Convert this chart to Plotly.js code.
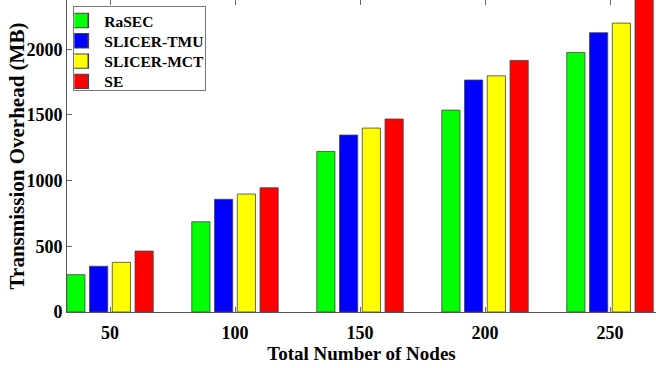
<!DOCTYPE html>
<html>
<head>
<meta charset="utf-8">
<script src="https://cdn.plot.ly/plotly-3.0.1.min.js"></script>
<style>html,body{margin:0;padding:0;background:#fff;}#chart{width:656px;height:368px;}</style>
</head>
<body>
<div id="chart"></div>
<script>
const categories = ['50', '100', '150', '200', '250'];
const seriesNames = ['RaSEC', 'SLICER-TMU', 'SLICER-MCT', 'SE'];
const rasec = [284, 687, 1222, 1537, 1976];
const slicerTMU = [348, 858, 1347, 1766, 2126];
const slicerMCT = [378, 898, 1400, 1798, 2199];
const se = [464, 946, 1469, 1915, 2450];
const yTicks = [0, 500, 1000, 1500, 2000];

const colors = ['#00ff00', '#0000ff', '#ffff00', '#ff0000'];
const values = [rasec, slicerTMU, slicerMCT, se];
const fam = 'Liberation Serif, Times New Roman, serif';

const traces = values.map((v, i) => ({
  type: 'bar',
  name: seriesNames[i],
  x: categories,
  y: v,
  marker: {color: colors[i], line: {color: '#444', width: 0.8}},
  cliponaxis: true
}));

const layout = {
  width: 656, height: 368,
  margin: {l: 67, r: 0, t: 0, b: 56},
  paper_bgcolor: '#fff', plot_bgcolor: '#fff',
  barmode: 'group', bargap: 0.272, bargroupgap: 0.2,
  showlegend: true,
  legend: {
    x: 0.0107, y: 0.981, xanchor: 'left', yanchor: 'top',
    bgcolor: '#fff', bordercolor: '#777', borderwidth: 1,
    font: {family: fam, size: 15.5, weight: 'bold', color: '#000'},
    tracegroupgap: 0, itemwidth: 30
  },
  xaxis: {
    type: 'category', range: [-0.344, 4.368],
    showline: true, linecolor: '#555', linewidth: 1, mirror: 'ticks',
    ticks: 'inside', ticklen: 5, tickcolor: '#666', tickwidth: 1,
    ticklabelstandoff: 4,
    tickfont: {family: fam, size: 18, weight: 'bold', color: '#000'},
    title: {text: 'Total Number of Nodes', font: {family: fam, size: 19, weight: 'bold', color: '#000'}, standoff: 3},
    showgrid: false, zeroline: false
  },
  yaxis: {
    range: [0, 2375], tickvals: yTicks, ticktext: yTicks.map(String),
    showline: true, linecolor: '#555', linewidth: 1,
    ticks: 'inside', ticklen: 5, tickcolor: '#666', tickwidth: 1,
    tickfont: {family: fam, size: 18, weight: 'bold', color: '#000'},
    title: {text: 'Transmission Overhead (MB)', font: {family: fam, size: 21, weight: 'bold', color: '#000'}, standoff: 0},
    showgrid: false, zeroline: false
  }
};

Plotly.newPlot('chart', traces, layout, {staticPlot: true, displayModeBar: false}).then(gd => {
  const yt = gd.querySelector('.g-ytitle');
  if (yt) yt.setAttribute('transform', 'translate(4,0)');
  const leg = gd.querySelector('.legend');
  if (!leg) return;
  const items = leg.querySelectorAll('.traces');
  let y0 = null;
  items.forEach((g, i) => {
    const t = g.getAttribute('transform') || '';
    const m = t.match(/translate\(\s*([-\d.]+)[ ,]+([-\d.]+)\s*\)/);
    if (m) {
      const x = parseFloat(m[1]);
      if (y0 === null) y0 = parseFloat(m[2]) - 3;
      g.setAttribute('transform', 'translate(' + x + ',' + (y0 + i * 20.3) + ')');
    }
    g.querySelectorAll('.legendpoints path').forEach(p => {
      p.setAttribute('transform', 'translate(2,0) scale(2,1.2)');
    });
    const txt = g.querySelector('text.legendtext');
    if (txt) {
      txt.setAttribute('x', 30);
      txt.querySelectorAll('tspan[x]').forEach(s => s.setAttribute('x', 30));
    }
  });
  const bg = leg.querySelector('rect.bg');
  if (bg) { bg.setAttribute('width', 132); bg.setAttribute('height', 84); }
});
</script>
</body>
</html>
